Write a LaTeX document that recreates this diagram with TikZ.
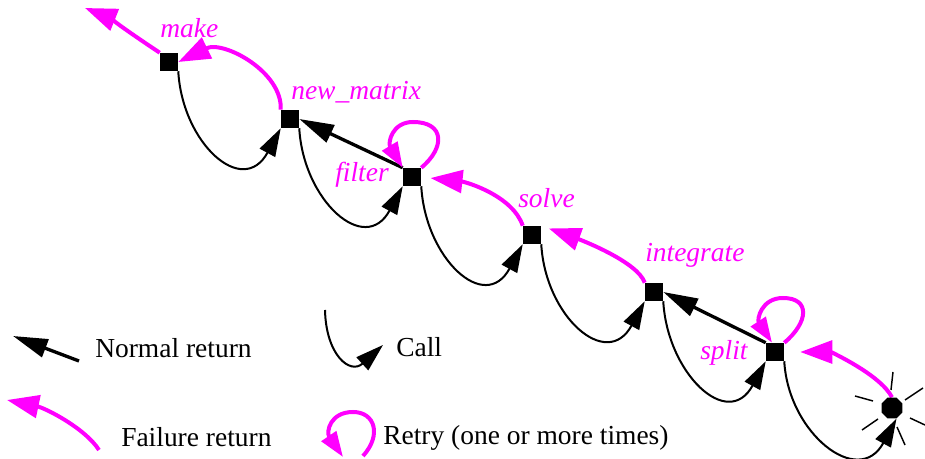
\documentclass[tikz,border=0pt]{standalone}
\usepackage{fontspec}
\setmainfont{Liberation Serif}
\newfontfamily\tnr{Liberation Serif}
\usetikzlibrary{arrows.meta,shapes.geometric,calc}
\definecolor{fail}{RGB}{255,0,255}
\pgfdeclarelayer{bg}\pgfsetlayers{bg,main}
\begin{document}
\begin{tikzpicture}[x=0.75pt,y=-0.75pt,
  box/.style={fill=black,draw=none,minimum size=13.5pt,inner sep=0pt},
  lbl/.style={text=fail,font=\tnr\fontsize{20.6}{24}\selectfont\itshape,anchor=base west,inner sep=0pt},
  leg/.style={font=\tnr\fontsize{20.6}{24}\selectfont,anchor=base west,inner sep=0pt},
  callarrow/.style={line width=1.5pt,-{Triangle[length=21pt,width=13pt]}},
  normarrow/.style={line width=2.5pt,-{Triangle[length=26pt,width=14pt]}},
  failarrow/.style={draw=fail,line width=3pt,-{Triangle[length=24pt,width=17pt]}},
  retryarrow/.style={draw=fail,line width=3pt,-{Triangle[length=19pt,width=13pt]}},
  ray/.style={line width=1.1pt}]
\useasboundingbox (0,0) rectangle (925,459);

% procedure boxes
\node[box] (make)   at (169,62)  {};
\node[box] (newm)   at (290,119) {};
\node[box] (filter) at (412,177) {};
\node[box] (solve)  at (532,235) {};
\node[box] (integ)  at (654,292) {};
\node[box] (split)  at (775,352) {};
\node[fill=black,draw=none,regular polygon,regular polygon sides=8,minimum size=17pt,inner sep=0pt] (oct) at (892,408) {};

% labels
\node[lbl] (lmake)   at (160,38)  {make};
\node[lbl] (lnewm)   at (291,100) {new\_matrix};
\node[lbl] (lfilter) at (335,182) {filter};
\node[lbl] (lsolve)  at (518,208) {solve};
\node[lbl] (linteg)  at (645,262) {integrate};
\node[lbl] (lsplit)  at (700,360) {split};

% legend texts
\node[leg] (tn) at (95,358)  {Normal return};
\node[leg] (tc) at (396,357) {Call};
\node[leg] (tf) at (121,447) {Failure return};
\node[leg] (tr) at (383,445) {Retry (one or more times)};

% legend coordinates
\coordinate (ns) at (79,361);  \coordinate (ne) at (13,336);
\coordinate (cs) at (325,310); \coordinate (ce) at (383,345);
\coordinate (fs) at (99,450);  \coordinate (fe) at (7,400);
\coordinate (rs) at (363,456); \coordinate (rt) at (343,457);
\coordinate (mkout) at (85,8);

\begin{pgfonlayer}{bg}
% calls
\draw[callarrow] (make.south east)   .. controls +(4,72) and +(-38,70) .. (newm.south west);
\draw[callarrow] (newm.south east)   .. controls +(4,72) and +(-38,70) .. (filter.south west);
\draw[callarrow] (filter.south east) .. controls +(4,72) and +(-38,70) .. (solve.south west);
\draw[callarrow] (solve.south east)  .. controls +(4,72) and +(-38,70) .. (integ.south west);
\draw[callarrow] (integ.south east)  .. controls +(4,72) and +(-38,70) .. (split.south west);
\draw[callarrow] (split.south east)  .. controls +(4,72) and +(-38,70) .. (oct.corner 6);

% normal returns
\draw[normarrow] (filter.north west) -- (newm.east);
\draw[normarrow] (split.north west) -- (integ.east);

% failure returns
\draw[failarrow] (make.north west) .. controls +(-15,-10) and +(20,8) .. (mkout);
\draw[failarrow] (newm.north west) .. controls +(2,-38) and +(45,-22) .. (make.east);
\draw[failarrow,shorten >=7pt] (solve.north west) .. controls +(-10,-30) and +(45,5) .. (filter.east);
\draw[failarrow,shorten >=6pt] (integ.north west) .. controls +(-7,-21) and +(39,14) .. (solve.north east);
\draw[failarrow,shorten >=12pt] (oct.north) .. controls +(-12,-23) and +(46,0) .. (split.east);

% retries
\draw[retryarrow] (filter.north east) .. controls +(24,-20) and +(32,0) .. ($(filter.center)+(1,-55)$)
   .. controls +(-21,0) and +(-15,-25) .. (filter.north west);
\draw[retryarrow] (split.north east) .. controls +(24,-20) and +(28,0) .. ($(split.center)+(8,-54)$)
   .. controls +(-22,0) and +(-15,-23) .. ($(split.north)+(-3,0)$);

% legend symbols
\draw[normarrow] (ns) -- (ne);
\draw[callarrow] (cs) .. controls +(1,45) and +(-33,30) .. (ce);
\draw[failarrow] (fs) .. controls +(-14,-22) and +(38,8) .. (fe);
\draw[retryarrow] (rs) .. controls +(19,-21) and +(22,0) .. (353,412) .. controls +(-23,0) and +(-17,-25) .. (rt);
\end{pgfonlayer}

% rays around the failure point
\draw[ray] ($(oct)+(1,-36)$) -- ($(oct)+(-1,-18)$);
\draw[ray] ($(oct)+(13,-8)$) -- ($(oct)+(31,-20)$);
\draw[ray] ($(oct)+(18,10)$) -- ($(oct)+(33,17)$);
\draw[ray] ($(oct)+(5,19)$) -- ($(oct)+(13,37)$);
\draw[ray] ($(oct)+(-37,-12)$) -- ($(oct)+(-19,-7)$);
\draw[ray] ($(oct)+(-30,22)$) -- ($(oct)+(-14,11)$);
\end{tikzpicture}
\end{document}
